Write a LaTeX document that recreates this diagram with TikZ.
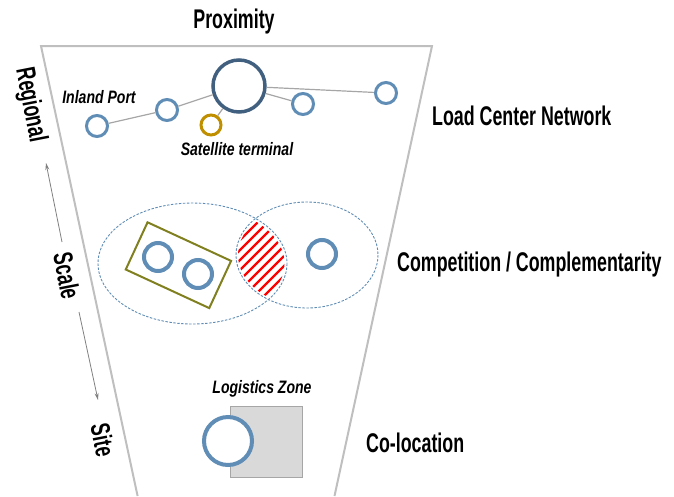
\documentclass[tikz,border=0pt]{standalone}
\usepackage{fontspec}
\newfontfamily\agency[FakeStretch=0.66]{Liberation Sans}
\newfontfamily\agencyit[FakeStretch=0.78]{Liberation Sans}
\usetikzlibrary{arrows.meta}
\definecolor{trapc}{HTML}{BFBFBF}
\definecolor{connc}{HTML}{A6A6A6}
\definecolor{bigc}{HTML}{41607F}
\definecolor{smallc}{HTML}{5F8DB5}
\definecolor{goldc}{HTML}{BF8F00}
\definecolor{olivec}{RGB}{128,128,32}
\definecolor{zonec}{HTML}{D9D9D9}
\tikzset{
  hub/.style={circle, draw=bigc, line width=3.5pt, minimum size=52pt, inner sep=0pt},
  port/.style={circle, draw=smallc, line width=3pt, minimum size=21pt, inner sep=0pt},
  mport/.style={circle, draw=smallc, line width=4pt, minimum size=28pt, inner sep=0pt},
  sat/.style={circle, draw=goldc, line width=3pt, minimum size=20pt, inner sep=0pt},
  conn/.style={draw=connc, line width=1.2pt},
  zone/.style={draw=smallc, line width=0.9pt, dash pattern=on 2.5pt off 1.5pt},
  big/.style={font=\agency\bfseries\fontsize{27}{29}\selectfont, inner sep=0pt},
  small/.style={font=\agencyit\bfseries\itshape\fontsize{18}{20}\selectfont, inner sep=0pt},
  scalearr/.style={draw=gray, line width=0.8pt, -{Stealth[length=7pt,width=4pt]}}
}
\begin{document}
\begin{tikzpicture}[x=1pt,y=-1pt]
\useasboundingbox (0,0) rectangle (674,496);
% trapezoid
\draw[trapc, line width=2pt] (137.6,496) -- (41,46) -- (432,46) -- (334.5,496);
% titles
\node[big] (prox) at (234,22) {Proximity};
\node[big, anchor=west] (lcn) at (432,116) {Load Center Network};
\node[big, anchor=west] (cc) at (397,265) {Competition / Complementarity};
\node[big, anchor=west] (col) at (366,443) {Co-location};
\node[big, rotate=-79] (reg) at (30,105) {Regional};
\node[big, rotate=-79] (scale) at (67,276) {Scale};
\node[big, rotate=-79] (site) at (103,440) {Site};
% scale arrows
\coordinate (sa1) at (62,242);
\coordinate (sa2) at (46,163);
\coordinate (sb1) at (79,312);
\coordinate (sb2) at (98,400);
\draw[scalearr] (sa1) -- (sa2);
\draw[scalearr] (sb1) -- (sb2);
% load center network
\node[hub] (hubn) at (239,86) {};
\node[port] (ip) at (97,126) {};
\node[port] (p2) at (167,110) {};
\node[sat] (st) at (211,125) {};
\node[port] (p3) at (303,104) {};
\node[port] (p4) at (386,93) {};
\draw[conn] (ip) -- (p2);
\draw[conn] (p2) -- (hubn);
\draw[conn] (hubn) -- (st);
\draw[conn] (hubn) -- (p3);
\draw[conn] (hubn) -- (p4);
\node[small] (ipl) at (99,97) {Inland Port};
\node[small] (stl) at (237,149) {Satellite terminal};
% competition
\begin{scope}
  \clip (192.5,263.5) ellipse [x radius=92, y radius=58];
  \clip (307,255) ellipse [x radius=69, y radius=51];
  \foreach \k in {0,...,16} {
    \draw[red, line width=2.3pt] (110+\k*10,340) -- ++(170,-170);
  }
\end{scope}
\draw[zone] (192.5,263.5) ellipse [x radius=94.5, y radius=60.5];
\draw[zone] (307,255) ellipse [x radius=71, y radius=53];
\node[draw=olivec, line width=2pt, minimum width=92pt, minimum height=52pt, rotate=-24.8, inner sep=0pt] (term) at (178.4,265.2) {};
\node[mport] (m1) at (158,257) {};
\node[mport] (m2) at (198,274) {};
\node[mport] (m3) at (322,254) {};
% co-location
\node[draw=connc, fill=zonec, line width=1pt, minimum width=72pt, minimum height=71pt, inner sep=0pt] (lz) at (266,441.5) {};
\node[circle, draw=smallc, line width=4pt, fill=white, minimum size=48pt, inner sep=0pt] (lc) at (228,441) {};
\node[small] (lzl) at (262,389) {Logistics Zone};
\end{tikzpicture}
\end{document}
